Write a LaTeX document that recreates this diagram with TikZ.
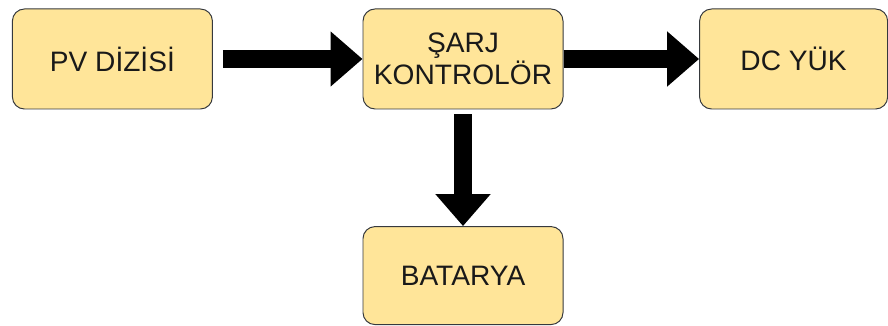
\documentclass[tikz,border=0pt]{standalone}
\usepackage{fontspec}
\setmainfont{Liberation Sans}
\usetikzlibrary{positioning,arrows.meta}
\definecolor{boxfill}{HTML}{FFE599}
\definecolor{boxline}{HTML}{36393D}

\begin{document}
\begin{tikzpicture}[
  block/.style={draw=boxline, fill=boxfill, line width=0.7pt, rounded corners=0.3cm,
    minimum width=5cm, minimum height=2.5cm, align=center, text=black!90,
    font=\fontsize{20}{23}\selectfont},
  flow/.style={line width=0.45cm, -{Triangle[length=0.8cm,width=1.33cm]}}]
\useasboundingbox (0,0) rectangle (22.2,8.15);
% boxes
\node[block] (pv) at (2.81,6.675) {PV DİZİSİ};
\node[block] (sarj) at (11.575,6.675) {ŞARJ\\KONTROLÖR};
\node[block, minimum width=4.7cm] (yuk) at (19.84,6.675) {DC YÜK};
\node[block, minimum height=2.45cm] (bat) at (11.575,1.26) {BATARYA};
% arrows
\draw[flow, shorten <=0.25cm] (pv) -- (sarj);
\draw[flow] (sarj) -- (yuk);
\draw[flow, shorten <=0.12cm] (sarj) -- (bat);
\end{tikzpicture}
\end{document}
